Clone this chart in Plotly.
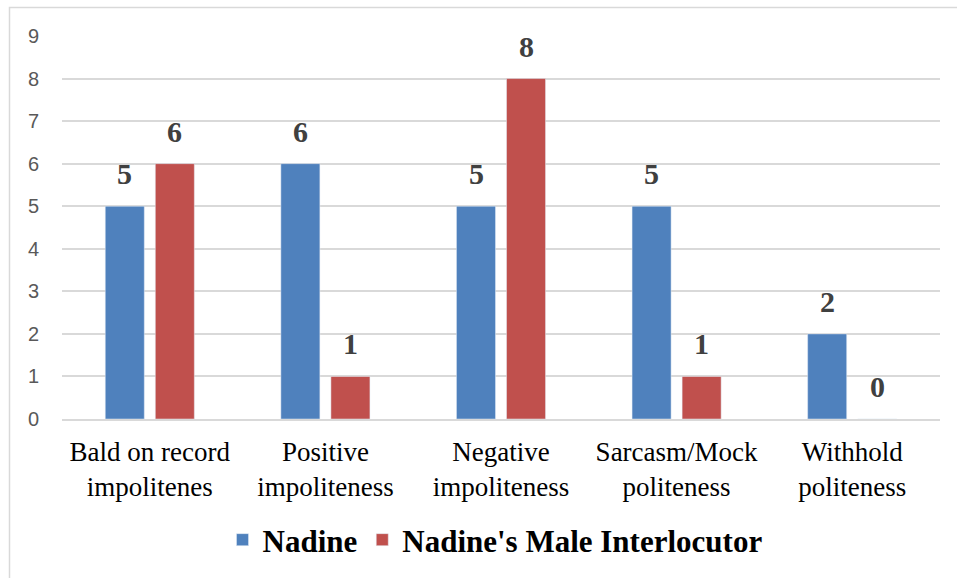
import plotly.graph_objects as go

categories = ["Bald on record<br>impolitenes", "Positive<br>impoliteness", "Negative<br>impoliteness",
              "Sarcasm/Mock<br>politeness", "Withhold<br>politeness"]
nadine = [5, 6, 5, 5, 2]
male = [6, 1, 8, 1, 0]
y_ticks = list(range(0, 10))

L, R, T, B = 62, 17, 36, 159
W, H = 957, 578
pw = W - L - R
ph = H - T - B

def px(x):
    return (x - L) / pw

def py(y):
    return (H - B - y) / ph

SERIF = "Liberation Serif"
SANS = "Liberation Sans"
BAR_OFFSET = 25

fig = go.Figure()
fig.add_trace(go.Bar(name="Nadine", x=categories, y=nadine, marker_color="#4F81BD"))
fig.add_trace(go.Bar(name="Nadine's Male Interlocutor", x=categories, y=male, marker_color="#C0504D"))

annotations = []
for vals, shift in ((nadine, -BAR_OFFSET), (male, BAR_OFFSET)):
    for c, v in zip(categories, vals):
        annotations.append(dict(x=c, y=v, xref="x", yref="y", text=f"<b>{v}</b>", showarrow=False,
                                xshift=shift, yshift=14, yanchor="bottom",
                                font=dict(family=SERIF, size=30, color="#404040")))

fig.update_layout(
    width=W, height=H,
    margin=dict(l=L, r=R, t=T, b=B, autoexpand=False),
    font=dict(family=SERIF, size=22, color="black"),
    paper_bgcolor="white", plot_bgcolor="white",
    barmode="group", bargap=0.43, bargroupgap=0.22,
    showlegend=True,
    legend=dict(orientation="h", x=px(495), xanchor="center", y=py(540), yanchor="middle",
                font=dict(family=SERIF, size=31, color="black", weight="bold"),
                traceorder="normal"),
    annotations=annotations,
    shapes=[dict(type="rect", xref="paper", yref="paper", x0=px(9.5), x1=px(970), y0=py(600), y1=py(7.5),
                 line=dict(color="#D9D9D9", width=1.5), fillcolor="rgba(0,0,0,0)", layer="below")],
)
fig.update_xaxes(tickfont=dict(family=SERIF, size=27, color="black"),
                 showline=True, linecolor="#D9D9D9", linewidth=1.5, ticks="", showgrid=False,
                 ticklabelstandoff=8)
fig.update_yaxes(range=[0, 9], tickvals=y_ticks, showgrid=True, gridcolor="#D9D9D9", gridwidth=1.5,
                 zeroline=False, tickfont=dict(family=SANS, size=20, color="#595959"),
                 ticks="", ticklabelstandoff=22)
fig.write_html("out.html", config={"displayModeBar": False},
               post_script="document.body.style.margin='0';")
